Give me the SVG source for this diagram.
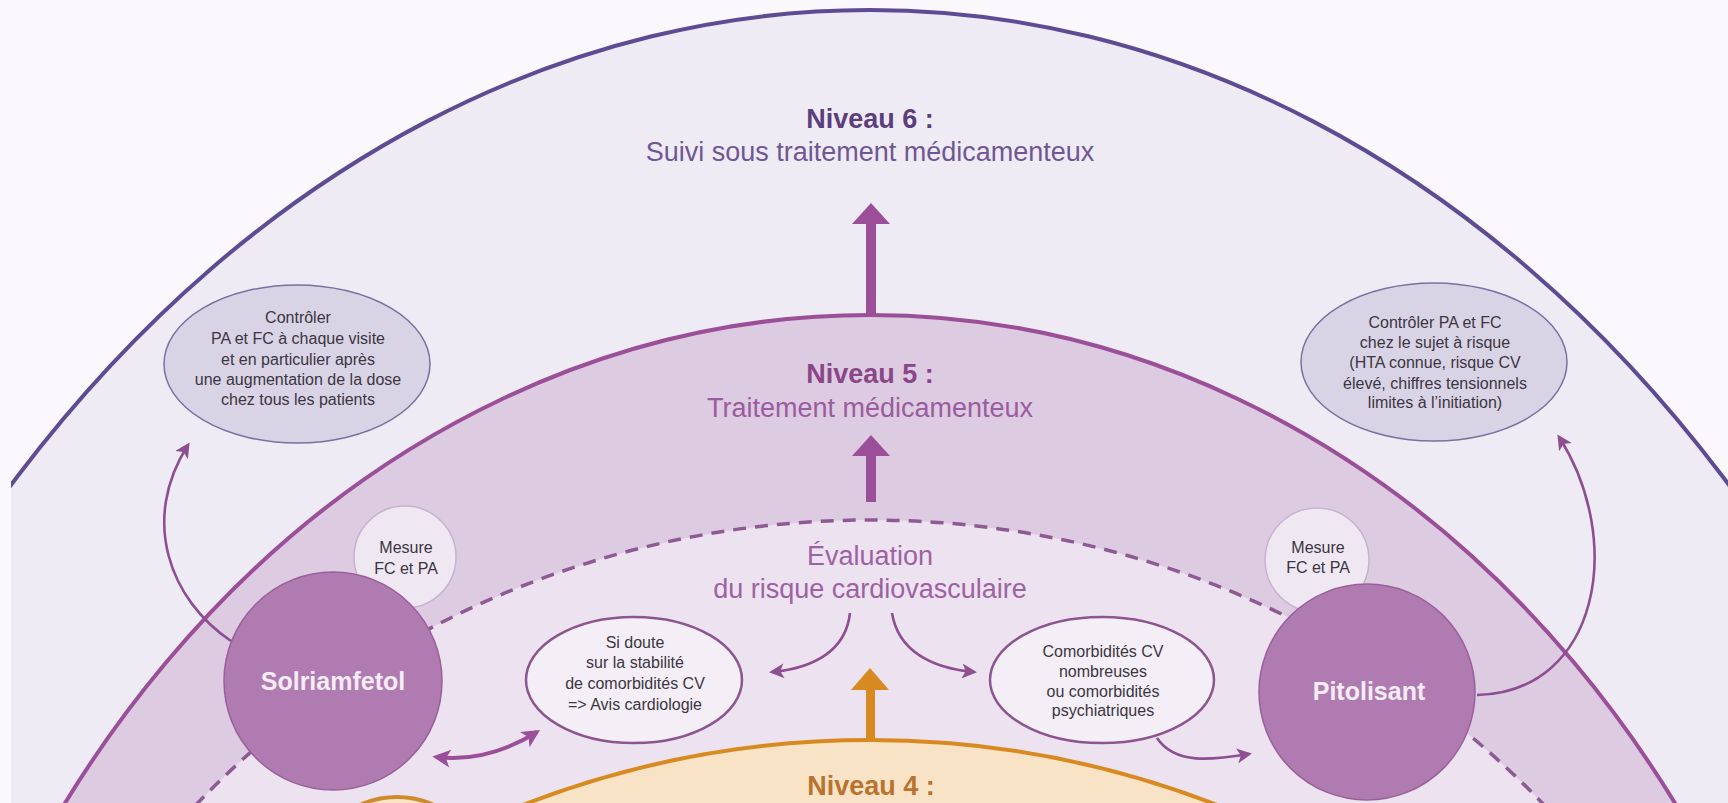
<svg xmlns="http://www.w3.org/2000/svg" width="1728" height="803" viewBox="0 0 1728 803">
<style>
.t{font-family:"Liberation Sans",Arial,sans-serif;text-anchor:middle}
.big{font-size:27px}
.b{font-weight:bold}
.sm{font-size:16px;fill:#3b3640}
.drug{font-size:25px;font-weight:bold;fill:#f6ecf6}
.conn{fill:none;stroke:#8d4f91;stroke-width:2.6}
</style>
<defs>
<marker id="ah" viewBox="0 0 10 10" refX="8" refY="5" markerWidth="16" markerHeight="15" markerUnits="userSpaceOnUse" orient="auto-start-reverse">
<path d="M0,0 L10,5 L0,10 L2.5,5 z" fill="#8d4f91"/>
</marker>
<marker id="ah2" viewBox="0 0 10 10" refX="8" refY="5" markerWidth="20" markerHeight="18" markerUnits="userSpaceOnUse" orient="auto-start-reverse">
<path d="M0,0 L10,5 L0,10 L2.5,5 z" fill="#9b4f98"/>
</marker>
</defs>
<rect width="1728" height="803" fill="#faf8fc"/>
<g id="levels">
<ellipse id="niveau6" cx="870" cy="1600" rx="1205" ry="1590" fill="#efebf5" stroke="#5e4b94" stroke-width="4"/>
<ellipse id="niveau5" cx="870" cy="1500" rx="995" ry="1185" fill="#dccbe1" stroke="#9b4f98" stroke-width="4"/>
<ellipse id="evaluation" cx="870" cy="1400" rx="915" ry="880" fill="#ede3f0" stroke="#8e5a94" stroke-width="3.5" stroke-dasharray="13 9"/>
<circle id="niveau4" cx="870" cy="1700" r="960" fill="#f8e3c6" stroke="#d88a20" stroke-width="4"/>
<circle id="niveau4-node" cx="397" cy="887" r="90" fill="#f8e3c6" stroke="#d08a2e" stroke-width="4"/>
</g>
<rect x="0" y="478" width="11" height="325" fill="#faf8fc"/>
<g id="connectors">
<rect x="866" y="220" width="10" height="96" fill="#9b4f98"/>
<polygon points="852,224 871,203 890,224" fill="#9b4f98"/>
<rect x="866" y="452" width="10" height="50" fill="#9b4f98"/>
<polygon points="852,456 871,435 890,456" fill="#9b4f98"/>
<rect x="866" y="686" width="9" height="56" fill="#d88a20"/>
<polygon points="851,690 870,668 889,690" fill="#d88a20"/>
<path class="conn" d="M850,613 C846,650 815,668 772,672" marker-end="url(#ah)"/>
<path class="conn" d="M892,613 C898,650 930,668 974,672" marker-end="url(#ah)"/>
<path class="conn" d="M1157,738 C1175,765 1212,760 1249,754" marker-end="url(#ah)"/>
<path class="conn" d="M231,641 C170,600 140,520 188,445" marker-end="url(#ah)"/>
<path class="conn" d="M1477,695 C1600,692 1625,540 1559,437" marker-end="url(#ah)"/>
<path d="M436,757 C470,761 505,752 537,732" fill="none" stroke="#9b4f98" stroke-width="4" marker-start="url(#ah2)" marker-end="url(#ah2)"/>
</g>
<g id="label-niveau6">
<text class="t big b" x="870" y="128" fill="#5a3e7d">Niveau 6 :</text>
<text class="t big" x="870" y="161" fill="#6f5793">Suivi sous traitement médicamenteux</text>
</g>
<g id="label-niveau5">
<text class="t big b" x="870" y="383" fill="#8a4688">Niveau 5 :</text>
<text class="t big" x="870" y="417" fill="#9c5ba0">Traitement médicamenteux</text>
</g>
<g id="label-evaluation">
<text class="t big" x="870" y="565" fill="#9d62a3">Évaluation</text>
<text class="t big" x="870" y="598" fill="#9d62a3">du risque cardiovasculaire</text>
</g>
<g id="label-niveau4">
<text class="t big b" x="871" y="795" fill="#b8732f">Niveau 4 :</text>
</g>
<g id="note-solriamfetol">
<ellipse cx="297" cy="364" rx="133" ry="79" fill="#d9d3e6" stroke="#7d6f9f" stroke-width="1.5"/>
<text class="t sm" x="298" y="323">Contrôler</text>
<text class="t sm" x="298" y="344">PA et FC à chaque visite</text>
<text class="t sm" x="298" y="365">et en particulier après</text>
<text class="t sm" x="298" y="385">une augmentation de la dose</text>
<text class="t sm" x="298" y="405">chez tous les patients</text>
</g>
<g id="note-pitolisant">
<ellipse cx="1434" cy="362" rx="133" ry="79" fill="#d9d3e6" stroke="#7d6f9f" stroke-width="1.5"/>
<text class="t sm" x="1435" y="328">Contrôler PA et FC</text>
<text class="t sm" x="1435" y="348">chez le sujet à risque</text>
<text class="t sm" x="1435" y="368">(HTA connue, risque CV</text>
<text class="t sm" x="1435" y="389">élevé, chiffres tensionnels</text>
<text class="t sm" x="1435" y="408">limites à l’initiation)</text>
</g>
<g id="mesure-left">
<circle cx="405" cy="557" r="51" fill="#efe7f2" stroke="#c5b3cc" stroke-width="1.5"/>
<text class="t sm" x="406" y="553">Mesure</text>
<text class="t sm" x="406" y="574">FC et PA</text>
</g>
<g id="solriamfetol">
<circle cx="333" cy="681" r="109" fill="#b07bb1" stroke="#9a609b" stroke-width="1.5"/>
<text class="t drug" x="333" y="690">Solriamfetol</text>
</g>
<g id="mesure-right">
<circle cx="1317" cy="560" r="52" fill="#efe7f2" stroke="#c5b3cc" stroke-width="1.5"/>
<text class="t sm" x="1318" y="553">Mesure</text>
<text class="t sm" x="1318" y="573">FC et PA</text>
</g>
<g id="pitolisant">
<circle cx="1367" cy="692" r="108" fill="#b07bb1" stroke="#9a609b" stroke-width="1.5"/>
<text class="t drug" x="1369" y="700">Pitolisant</text>
</g>
<g id="si-doute">
<ellipse cx="634" cy="680" rx="108" ry="63" fill="#f4eef7" stroke="#8d5590" stroke-width="2.5"/>
<text class="t sm" x="635" y="648">Si doute</text>
<text class="t sm" x="635" y="668">sur la stabilité</text>
<text class="t sm" x="635" y="689">de comorbidités CV</text>
<text class="t sm" x="635" y="710">=&gt; Avis cardiologie</text>
</g>
<g id="comorbidites">
<ellipse cx="1102" cy="680" rx="112" ry="63" fill="#f4eef7" stroke="#8d5590" stroke-width="2.5"/>
<text class="t sm" x="1103" y="657">Comorbidités CV</text>
<text class="t sm" x="1103" y="677">nombreuses</text>
<text class="t sm" x="1103" y="697">ou comorbidités</text>
<text class="t sm" x="1103" y="716">psychiatriques</text>
</g>
</svg>
